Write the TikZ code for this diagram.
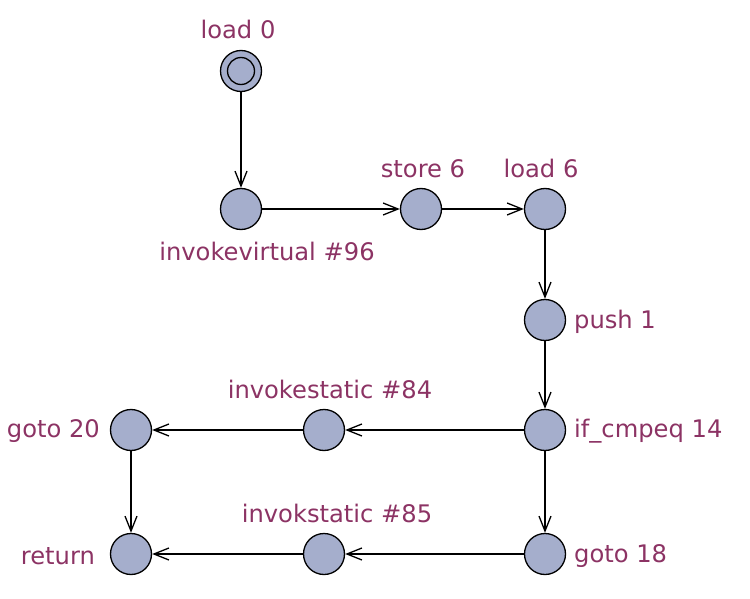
\documentclass[tikz,border=0pt]{standalone}
\usepackage{fontspec}
\setmainfont{DejaVu Sans}
\usetikzlibrary{arrows.meta, positioning}

\definecolor{statefill}{HTML}{A5AECC}
\definecolor{labelcol}{HTML}{8C3364}

\begin{document}
\begin{tikzpicture}[x=1pt,y=-1pt,->,>={Straight Barb[length=15pt,width=12pt]},
 line width=1.3pt,
 state node/.style={circle,draw,line width=1.3pt,fill=statefill,minimum size=41pt,inner sep=0pt},
 init node/.style={state node,path picture={\draw[line width=1.3pt] (path picture bounding box.center) circle (13.5pt);}},
 every label/.style={text=labelcol,font=\fontsize{24.2}{27}\selectfont,label distance=6pt}]

  \useasboundingbox (0,0) rectangle (750,599);

  \node[init node] (load0) at (241,71) [label={[xshift=-3pt,yshift=1pt]above:load 0}] {};
  \node[state node] (invv96) at (241,209) [label={[xshift=26pt,yshift=-2pt]below:invokevirtual \#96}] {};
  \node[state node] (store6) at (421,209) [label={[xshift=2pt]above:store 6}] {};
  \node[state node] (load6) at (545,209) [label={[xshift=-4pt]above:load 6}] {};
  \node[state node] (push1) at (545,320) [label={[yshift=-2pt,label distance=4pt]right:push 1}] {};
  \node[state node] (ifcmp) at (545,430) [label={[yshift=-1pt,label distance=4pt]right:if\_cmpeq 14}] {};
  \node[state node] (invs84) at (324,430) [label={[xshift=6pt]above:invokestatic \#84}] {};
  \node[state node] (goto20) at (131,430) [label={[yshift=-1pt]left:goto 20}] {};
  \node[state node] (goto18) at (545,554) [label={[yshift=-2pt,label distance=4pt]right:goto 18}] {};
  \node[state node] (invs85) at (324,554) [label={[xshift=13pt]above:invokstatic \#85}] {};
  \node[state node] (ret) at (131,554) [label={[yshift=-2pt,label distance=11pt]left:return}] {};

  \foreach \s/\t in {load0/invv96, invv96/store6, store6/load6, load6/push1,
    push1/ifcmp, ifcmp/invs84, invs84/goto20, goto20/ret,
    ifcmp/goto18, goto18/invs85, invs85/ret} {
   \path[draw] (\s) -- (\t);}

\end{tikzpicture}
\end{document}
